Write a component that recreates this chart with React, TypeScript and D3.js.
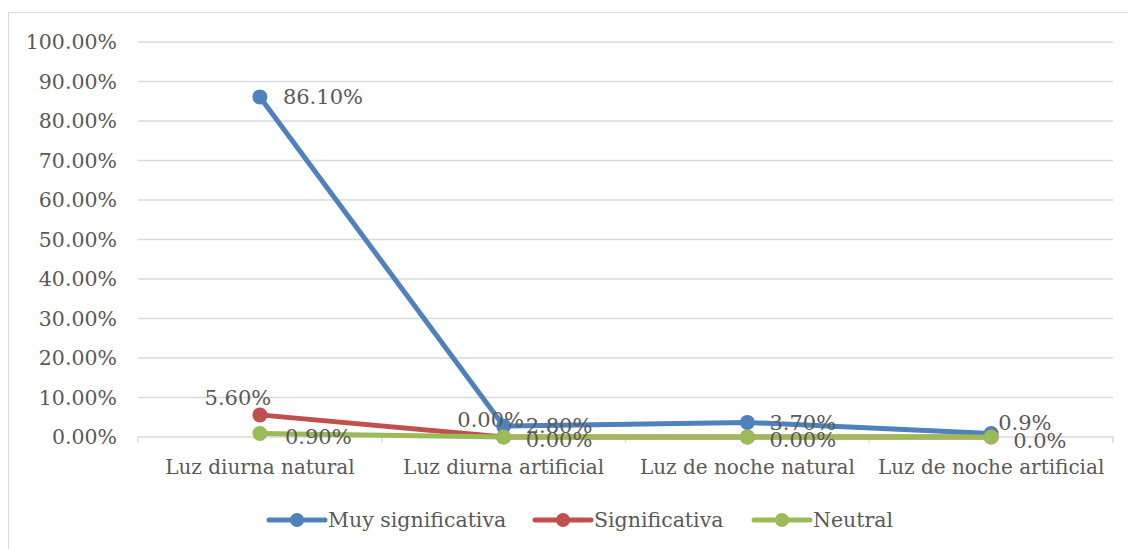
import React from "react";
import * as d3 from "d3";

const categories = ["Luz diurna natural", "Luz diurna artificial", "Luz de noche natural", "Luz de noche artificial"];
const seriesNames = ["Muy significativa", "Significativa", "Neutral"];
const muyValues = [0.861, 0.028, 0.037, 0.009];
const sigValues = [0.056, 0.0, 0.0, 0.0];
const neuValues = [0.009, 0.0, 0.0, 0.0];
const muyLabels = ["86.10%", "2.80%", "3.70%", "0.9%"];
const sigLabels = ["5.60%", "0.00%", null, null];
const neuLabels = ["0.90%", "0.00%", "0.00%", "0.0%"];
const yTicks = [0, 0.1, 0.2, 0.3, 0.4, 0.5, 0.6, 0.7, 0.8, 0.9, 1.0];

const W = 1128, H = 549;
const colors = ["#4F81BD", "#C0504D", "#9BBB59"];
const FONT = "'DejaVu Serif', serif";
const TXT = "#595959";

// label placement (dx, dy) per series, per category
const labelOffsets = [
  [[23, 0], [22, 0], [22, 0], [7, -11]],
  [[-22, -17], [-13, -17], [0, 0], [0, 0]],
  [[25, 3], [22, 3], [22, 3], [22, 4]],
];

export default function App() {
  const x = d3.scaleBand().domain(categories).range([138, 1113]);
  const y = d3.scaleLinear().domain([0, 1]).range([437, 42]);
  const cx = (c: string) => (x(c) as number) + x.bandwidth() / 2;
  const line = d3.line<[number, number]>().x(d => d[0]).y(d => d[1]);
  const series = [
    { name: seriesNames[0], values: muyValues, labels: muyLabels, color: colors[0], anchor: "start" },
    { name: seriesNames[1], values: sigValues, labels: sigLabels, color: colors[1], anchor: "middle" },
    { name: seriesNames[2], values: neuValues, labels: neuLabels, color: colors[2], anchor: "start" },
  ];
  const legendX = [269, 535, 754];
  const fmt = d3.format(".2%");
  return (
    <svg width={W} height={H} style={{ position: "absolute", left: 0, top: 0 }} fontFamily={FONT}>
      <rect x={0} y={0} width={W} height={H} fill="#fff" />
      <rect x={8.5} y={12.5} width={W + 10} height={H + 10} fill="none" stroke="#D9D9D9" />
      {yTicks.map(t => (
        <g key={t}>
          {t > 0 && <line x1={138} x2={1113} y1={y(t)} y2={y(t)} stroke="#D9D9D9" strokeWidth={1.3} />}
          <text x={117} y={y(t)} dy="0.35em" textAnchor="end" fontSize={20.5} fill={TXT}>{fmt(t)}</text>
        </g>
      ))}
      <line x1={138} x2={1113} y1={y(0)} y2={y(0)} stroke="#D9D9D9" strokeWidth={1.3} />
      {[0, 1, 2, 3, 4].map(i => (
        <line key={i} x1={138 + i * x.bandwidth()} x2={138 + i * x.bandwidth()} y1={y(0)} y2={y(0) + 6} stroke="#D9D9D9" strokeWidth={1.3} />
      ))}
      {categories.map(c => (
        <text key={c} x={cx(c)} y={467} dy="0.35em" textAnchor="middle" fontSize={20} fill={TXT}>{c}</text>
      ))}
      {series.map(s => (
        <g key={s.name}>
          <path d={line(categories.map((c, i) => [cx(c), y(s.values[i])]) as any) || ""} fill="none" stroke={s.color} strokeWidth={5} strokeLinejoin="round" strokeLinecap="round" />
          {categories.map((c, i) => (
            <circle key={c} cx={cx(c)} cy={y(s.values[i])} r={7.5} fill={s.color} />
          ))}
        </g>
      ))}
      {series.map((s, si) => (
        <g key={s.name + "l"}>
          {categories.map((c, i) => s.labels[i] == null ? null : (
            <text key={c} x={cx(c) + labelOffsets[si][i][0]} y={y(s.values[i]) + labelOffsets[si][i][1]} dy="0.35em" textAnchor={s.anchor as any} fontSize={21} fill={TXT}>{s.labels[i]}</text>
          ))}
        </g>
      ))}
      {series.map((s, i) => (
        <g key={s.name + "g"}>
          <line x1={legendX[i]} x2={legendX[i] + 56} y1={520} y2={520} stroke={s.color} strokeWidth={5} strokeLinecap="round" />
          <circle cx={legendX[i] + 28} cy={520} r={7} fill={s.color} />
          <text x={legendX[i] + 59} y={520} dy="0.35em" fontSize={20.5} fill={TXT}>{s.name}</text>
        </g>
      ))}
    </svg>
  );
}
